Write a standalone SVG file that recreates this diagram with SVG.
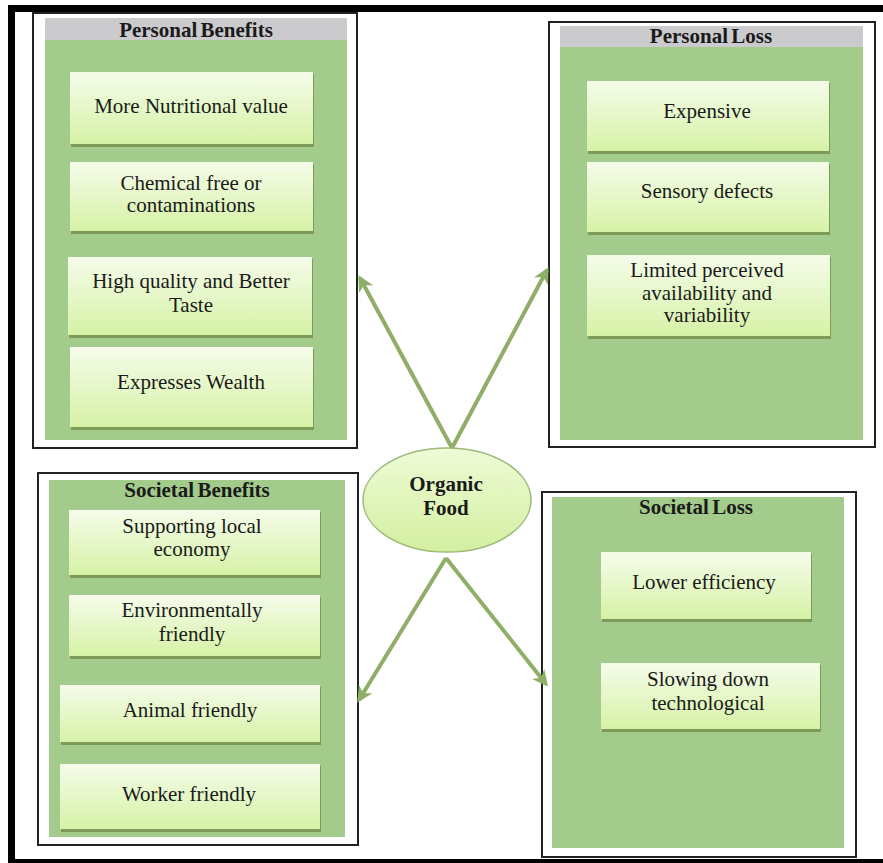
<svg xmlns="http://www.w3.org/2000/svg" width="883" height="863" viewBox="0 0 883 863">
  <defs>
    <linearGradient id="itemFill" x1="0" y1="0" x2="0" y2="1">
      <stop offset="0" stop-color="#f5fcea"/>
      <stop offset="1" stop-color="#d6f2a6"/>
    </linearGradient>
    <linearGradient id="hubFill" x1="0" y1="0" x2="0" y2="1">
      <stop offset="0" stop-color="#eefbd6"/>
      <stop offset="1" stop-color="#d3efa0"/>
    </linearGradient>
    <marker id="head" viewBox="0 0 10 10" refX="8" refY="5" markerWidth="4" markerHeight="4" orient="auto" markerUnits="strokeWidth">
      <path d="M0,0 L10,5 L0,10 L3,5 Z" fill="#8fae68"/>
    </marker>
  </defs>
  <style>
    .frame { fill: none; stroke: #000; stroke-width: 7; }
    .outer { fill: #fff; stroke: #222; stroke-width: 2; }
    .panel { fill: #a3cb8b; }
    .header { fill: #cbcacd; }
    .shade { fill: #7d9a58; }
    .item { fill: url(#itemFill); }
    .t { font-family: "Liberation Serif", "Times New Roman", serif; font-size: 21px; fill: #1a1a1a; text-anchor: middle; }
    .h { font-family: "Liberation Serif", "Times New Roman", serif; font-size: 21px; font-weight: bold; fill: #1a1a1a; text-anchor: middle; word-spacing: -2px; }
    .link { stroke: #8fae68; stroke-width: 4; fill: none; marker-end: url(#head); }
  </style>

  <rect width="883" height="863" fill="#fff"/>
  <rect class="frame" x="11.5" y="8.5" width="880" height="854"/>

  <!-- Personal Benefits -->
  <g id="personal-benefits">
    <rect class="outer" x="33" y="13" width="324" height="435"/>
    <rect class="panel" x="45" y="18" width="302" height="422"/>
    <rect class="header" x="45" y="18" width="302" height="22"/>
    <text class="h" x="196" y="37">Personal Benefits</text>
    <rect class="shade" x="71" y="74" width="243" height="73"/>
    <rect class="item" x="70" y="72" width="243" height="72"/>
    <text class="t" x="191" y="113">More Nutritional value</text>
    <rect class="shade" x="71" y="164" width="243" height="70"/>
    <rect class="item" x="70" y="162" width="243" height="69"/>
    <text class="t" x="191" y="190">Chemical free or</text>
    <text class="t" x="191" y="212">contaminations</text>
    <rect class="shade" x="69" y="259" width="244" height="79"/>
    <rect class="item" x="68" y="257" width="244" height="78"/>
    <text class="t" x="191" y="288">High quality and Better</text>
    <text class="t" x="191" y="312">Taste</text>
    <rect class="shade" x="71" y="349" width="243" height="81"/>
    <rect class="item" x="70" y="347" width="243" height="80"/>
    <text class="t" x="191" y="389">Expresses Wealth</text>
  </g>

  <!-- Personal Loss -->
  <g id="personal-loss">
    <rect class="outer" x="549" y="22" width="326" height="425"/>
    <rect class="panel" x="560" y="26" width="303" height="414"/>
    <rect class="header" x="560" y="26" width="303" height="21"/>
    <text class="h" x="711" y="43">Personal Loss</text>
    <rect class="shade" x="588" y="83" width="242" height="71"/>
    <rect class="item" x="587" y="81" width="242" height="70"/>
    <text class="t" x="707" y="118">Expensive</text>
    <rect class="shade" x="588" y="164" width="242" height="71"/>
    <rect class="item" x="587" y="162" width="242" height="70"/>
    <text class="t" x="707" y="198">Sensory defects</text>
    <rect class="shade" x="588" y="257" width="243" height="82"/>
    <rect class="item" x="587" y="255" width="243" height="81"/>
    <text class="t" x="707" y="277">Limited perceived</text>
    <text class="t" x="707" y="300">availability and</text>
    <text class="t" x="707" y="322">variability</text>
  </g>

  <!-- Societal Benefits -->
  <g id="societal-benefits">
    <rect class="outer" x="38" y="473" width="320" height="372"/>
    <rect class="panel" x="49" y="480" width="296" height="357"/>
    <text class="h" x="197" y="497">Societal Benefits</text>
    <rect class="shade" x="70" y="512" width="251" height="66"/>
    <rect class="item" x="69" y="510" width="251" height="65"/>
    <text class="t" x="192" y="533">Supporting local</text>
    <text class="t" x="192" y="556">economy</text>
    <rect class="shade" x="70" y="597" width="251" height="62"/>
    <rect class="item" x="69" y="595" width="251" height="61"/>
    <text class="t" x="192" y="617">Environmentally</text>
    <text class="t" x="192" y="641">friendly</text>
    <rect class="shade" x="61" y="687" width="260" height="58"/>
    <rect class="item" x="60" y="685" width="260" height="57"/>
    <text class="t" x="190" y="717">Animal friendly</text>
    <rect class="shade" x="61" y="766" width="260" height="66"/>
    <rect class="item" x="60" y="764" width="260" height="65"/>
    <text class="t" x="189" y="801">Worker friendly</text>
  </g>

  <!-- Societal Loss -->
  <g id="societal-loss">
    <rect class="outer" x="542" y="492" width="314" height="365"/>
    <rect class="panel" x="552" y="497" width="292" height="351"/>
    <text class="h" x="696" y="514">Societal Loss</text>
    <rect class="shade" x="602" y="554" width="210" height="68"/>
    <rect class="item" x="601" y="552" width="210" height="67"/>
    <text class="t" x="704" y="589">Lower efficiency</text>
    <rect class="shade" x="602" y="665" width="219" height="67"/>
    <rect class="item" x="601" y="663" width="219" height="66"/>
    <text class="t" x="708" y="686">Slowing down</text>
    <text class="t" x="708" y="710">technological</text>
  </g>

  <!-- Connectors from the hub to each quadrant -->
  <g id="connectors">
    <line class="link" x1="452" y1="448" x2="360" y2="278"/>
    <line class="link" x1="452" y1="448" x2="547" y2="270"/>
    <line class="link" x1="446" y1="558" x2="359" y2="700"/>
    <line class="link" x1="446" y1="558" x2="546" y2="684"/>
  </g>

  <!-- Central hub -->
  <g id="organic-food">
    <ellipse cx="447" cy="500" rx="84" ry="52" fill="url(#hubFill)" stroke="#9cb97a" stroke-width="1.5"/>
    <text class="h" x="446" y="491">Organic</text>
    <text class="h" x="446" y="515">Food</text>
  </g>
</svg>
